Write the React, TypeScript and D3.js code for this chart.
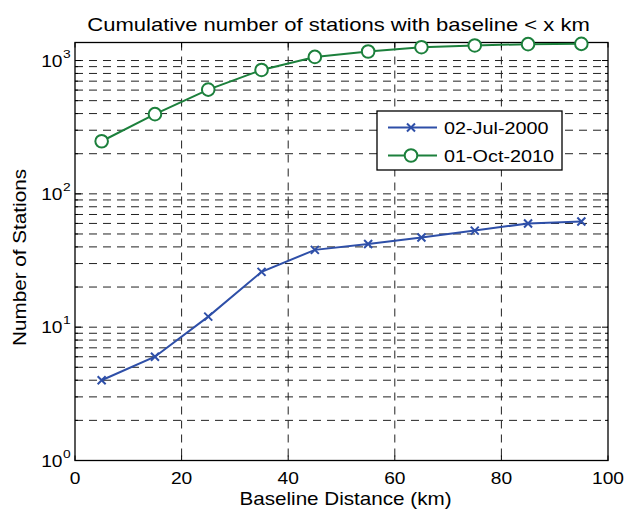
import React from "react";
import * as d3 from "d3";

// Baseline distance bins (km) and cumulative station counts
const distances = [5, 15, 25, 35, 45, 55, 65, 75, 85, 95];
const stations2000 = [4, 6, 12, 26, 38, 42, 47, 53, 60, 62];
const stations2010 = [248, 396, 605, 850, 1064, 1169, 1259, 1297, 1327, 1334];
const seriesLabels = ["02-Jul-2000", "01-Oct-2010"];
const xTicks = [0, 20, 40, 60, 80, 100];
const yDecades = [0, 1, 2, 3];

const W = 627;
const H = 516;
const M = { left: 75, right: 608, top: 42.5, bottom: 460.5 };
const FONT = "'Liberation Sans', Arial, Helvetica, sans-serif";
const SX = 1.2; // horizontal stretch of the lettering

const BLUE = "#2e4fa8";
const GREEN = "#1c803c";

type TProps = {
  x: number;
  y: number;
  size: number;
  anchor?: "start" | "middle" | "end";
  sx?: number;
  children: React.ReactNode;
};

function T({ x, y, size, anchor = "start", sx = SX, children }: TProps) {
  return (
    <text
      transform={`translate(${x},${y}) scale(${sx},1)`}
      textAnchor={anchor}
      fontFamily={FONT}
      fontSize={size}
      fill="#000"
    >
      {children}
    </text>
  );
}

export default function App() {
  const x = d3.scaleLinear().domain([0, 100]).range([M.left, M.right]);
  const y = d3.scaleLog().domain([1, 1365]).range([M.bottom, M.top]);

  const line = d3
    .line<[number, number]>()
    .x((d) => x(d[0]))
    .y((d) => y(d[1]));

  const pts2000 = distances.map((d, i) => [d, stations2000[i]] as [number, number]);
  const pts2010 = distances.map((d, i) => [d, stations2010[i]] as [number, number]);

  // y grid values: decades plus 2..9 within each decade
  const yGrid: number[] = [];
  yDecades.forEach((e) => {
    for (let m = 1; m <= 9; m++) {
      const v = m * Math.pow(10, e);
      if (v > 1 && v <= 1365) yGrid.push(v);
    }
  });

  const dash = "8,6";
  const cross = (cx: number, cy: number, key: string, color: string) => {
    const s = 4;
    return (
      <path
        key={key}
        d={`M${cx - s},${cy - s}L${cx + s},${cy + s}M${cx - s},${cy + s}L${cx + s},${cy - s}`}
        stroke={color}
        strokeWidth={2}
        fill="none"
      />
    );
  };

  const legend = { x0: 377, y0: 111, x1: 562, y1: 170 };
  const rowY = [127.5, 155.5];

  return (
    <svg
      width={W}
      height={H}
      viewBox={`0 0 ${W} ${H}`}
      style={{ position: "absolute", left: 0, top: 0, background: "#fff" }}
    >
      <rect x={0} y={0} width={W} height={H} fill="#fff" />

      {/* grid */}
      <g stroke="#222" strokeWidth={1} strokeDasharray={dash} fill="none">
        {yGrid.map((v) => (
          <line key={`gy${v}`} x1={M.left} x2={M.right} y1={y(v)} y2={y(v)} />
        ))}
        {xTicks
          .filter((t) => t > 0 && t < 100)
          .map((t) => (
            <line key={`gx${t}`} x1={x(t)} x2={x(t)} y1={M.top} y2={M.bottom} />
          ))}
      </g>

      {/* inward ticks */}
      <g stroke="#000" strokeWidth={1}>
        {xTicks.map((t) => (
          <g key={`tx${t}`}>
            <line x1={x(t)} x2={x(t)} y1={M.bottom} y2={M.bottom - 5} />
            <line x1={x(t)} x2={x(t)} y1={M.top} y2={M.top + 5} />
          </g>
        ))}
        {yGrid.map((v) => {
          const major = Math.abs(Math.log10(v) - Math.round(Math.log10(v))) < 1e-9;
          const len = major ? 6 : 3;
          return (
            <g key={`ty${v}`}>
              <line x1={M.left} x2={M.left + len} y1={y(v)} y2={y(v)} />
              <line x1={M.right} x2={M.right - len} y1={y(v)} y2={y(v)} />
            </g>
          );
        })}
      </g>

      {/* frame */}
      <rect
        x={M.left}
        y={M.top}
        width={M.right - M.left}
        height={M.bottom - M.top}
        fill="none"
        stroke="#000"
        strokeWidth={1.3}
      />

      {/* series */}
      <path d={line(pts2000) ?? ""} stroke={BLUE} strokeWidth={2} fill="none" />
      {pts2000.map((p, i) => cross(x(p[0]), y(p[1]), `c${i}`, BLUE))}

      <path d={line(pts2010) ?? ""} stroke={GREEN} strokeWidth={2} fill="none" />
      {pts2010.map((p, i) => (
        <circle
          key={`o${i}`}
          cx={x(p[0])}
          cy={y(p[1])}
          r={6.3}
          fill="#fff"
          stroke={GREEN}
          strokeWidth={2}
        />
      ))}

      {/* x tick labels */}
      {xTicks.map((t) => (
        <T key={`lx${t}`} x={x(t)} y={484} size={16} anchor="middle">
          {t}
        </T>
      ))}

      {/* y tick labels: 10^n */}
      {yDecades.map((e) => {
        const yy = y(Math.pow(10, e));
        return (
          <g key={`ly${e}`}>
            <T x={62.5} y={yy + 6} size={16} anchor="end">
              10
            </T>
            <T x={63} y={yy - 3} size={11.5} anchor="start">
              {e}
            </T>
          </g>
        );
      })}

      {/* axis labels */}
      <T x={(M.left + M.right) / 2 + 4} y={505} size={17.5} anchor="middle" sx={1.18}>
        Baseline Distance (km)
      </T>
      <text
        transform={`translate(26,${(M.top + M.bottom) / 2 + 6}) rotate(-90) scale(1.15,1)`}
        textAnchor="middle"
        fontFamily={FONT}
        fontSize={18}
      >
        Number of Stations
      </text>

      {/* title */}
      <T x={(M.left + M.right) / 2 - 3} y={31} size={19} anchor="middle" sx={1.16}>
        Cumulative number of stations with baseline &lt; x km
      </T>

      {/* legend */}
      <rect
        x={legend.x0}
        y={legend.y0}
        width={legend.x1 - legend.x0}
        height={legend.y1 - legend.y0}
        fill="#fff"
        stroke="#000"
        strokeWidth={1.3}
      />
      <line x1={388} x2={437} y1={rowY[0]} y2={rowY[0]} stroke={BLUE} strokeWidth={2} />
      {cross(411, rowY[0], "lc", BLUE)}
      <line x1={388} x2={437} y1={rowY[1]} y2={rowY[1]} stroke={GREEN} strokeWidth={2} />
      <circle cx={411} cy={rowY[1]} r={6.3} fill="#fff" stroke={GREEN} strokeWidth={2} />
      <T x={444} y={rowY[0] + 6} size={16.5} sx={1.2}>
        {seriesLabels[0]}
      </T>
      <T x={444} y={rowY[1] + 6} size={16.5} sx={1.2}>
        {seriesLabels[1]}
      </T>
    </svg>
  );
}
